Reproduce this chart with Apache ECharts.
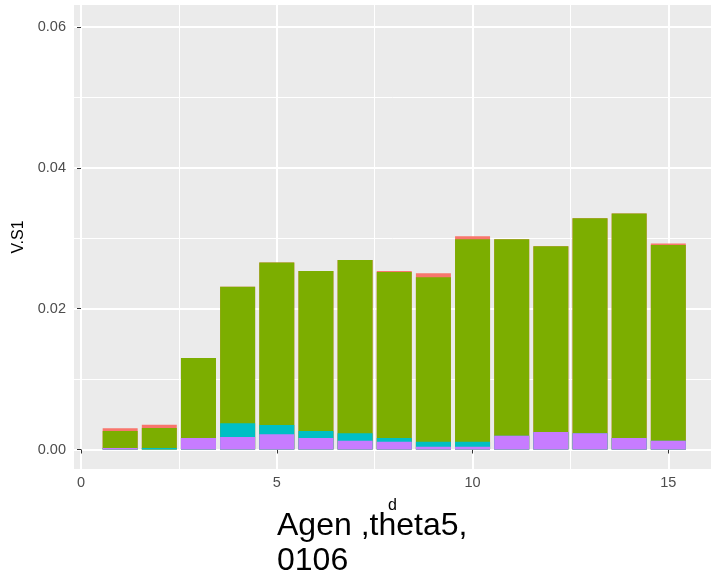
<!DOCTYPE html>
<html>
<head>
<meta charset="utf-8">
<script src="https://cdn.jsdelivr.net/npm/echarts@6/dist/echarts.min.js"></script>
<style>
  html, body { margin: 0; padding: 0; background: #ffffff; }
  #chart { width: 711px; height: 579px; }
</style>
</head>
<body>
<div id="chart"></div>
<script>
// days on the x axis
var days = [1, 2, 3, 4, 5, 6, 7, 8, 9, 10, 11, 12, 13, 14, 15];
// stacked pieces, bottom to top
var purpleVals = [0.0002, 0, 0.00163, 0.00177, 0.00216, 0.00163, 0.00125, 0.0011, 0.0004, 0.0004, 0.00196, 0.00248, 0.0023, 0.00163, 0.00125];
var tealVals = [0, 0.0002, 0, 0.00195, 0.00132, 0.00099, 0.00105, 0.00053, 0.0007, 0.0007, 0, 0, 0, 0, 0];
var greenVals = [0.00242, 0.00285, 0.01135, 0.01938, 0.02307, 0.02274, 0.02462, 0.02359, 0.02337, 0.02876, 0.0279, 0.02639, 0.03054, 0.03187, 0.0278];
var redVals = [0.0004, 0.00047, 0, 0, 0, 0, 0, 0.00014, 0.00057, 0.00042, 0, 0, 0, 0, 0.0002];
// tick labels
var xTicks = [0, 5, 10, 15];
var xMinor = [2.5, 7.5, 12.5];
var yTicks = [0, 0.02, 0.04, 0.06];
var yMinor = [0.01, 0.03, 0.05];

var font = "Liberation Sans";
var chart = echarts.init(document.getElementById("chart"));

// running totals so each piece sits on the ones below it
function cumulate(lists) {
  return days.map(function (d, i) {
    var s = 0;
    lists.forEach(function (l) { s += l[i]; });
    return [d, s];
  });
}

function barSeries(name, lists, color) {
  return {
    name: name,
    type: "bar",
    data: cumulate(lists),
    barWidth: 35,
    barGap: "-100%",
    itemStyle: { color: color },
    clip: false
  };
}

chart.setOption({
  animation: false,
  textStyle: { fontFamily: font },
  title: {
    text: "Agen ,theta5,\n0106",
    left: 272,
    top: 504,
    textStyle: {
      fontFamily: font,
      fontSize: 32,
      fontWeight: "normal",
      color: "#000000",
      lineHeight: 35
    }
  },
  grid: {
    left: 74,
    right: 0,
    top: 5,
    bottom: 110,
    show: true,
    backgroundColor: "#EBEBEB",
    borderWidth: 0
  },
  xAxis: [
    {
      type: "value",
      min: -0.179,
      max: 16.09,
      name: "d",
      nameLocation: "middle",
      nameGap: 29,
      nameTextStyle: { fontSize: 16, color: "#000000" },
      axisLine: { show: false },
      axisTick: { show: true, length: 4, lineStyle: { color: "#333333" }, customValues: xTicks },
      axisLabel: { color: "#4D4D4D", fontSize: 14.5, margin: 6, customValues: xTicks },
      splitLine: { show: true, lineStyle: { color: "#ffffff", width: 2 } }
    },
    {
      type: "value",
      min: -0.179,
      max: 16.09,
      axisLine: { show: false },
      axisTick: { show: false, customValues: xMinor },
      axisLabel: { show: false, customValues: xMinor },
      splitLine: { show: true, lineStyle: { color: "#ffffff", width: 1 } }
    }
  ],
  yAxis: [
    {
      type: "value",
      min: -0.002769,
      max: 0.063125,
      name: "V.S1",
      nameLocation: "middle",
      nameGap: 45,
      nameTextStyle: { fontSize: 16, color: "#000000" },
      axisLine: { show: false },
      axisTick: { show: true, length: 4, lineStyle: { color: "#333333" }, customValues: yTicks },
      axisLabel: {
        color: "#4D4D4D",
        fontSize: 14.5,
        margin: 8,
        customValues: yTicks,
        formatter: function (v) { return v.toFixed(2); }
      },
      splitLine: { show: true, lineStyle: { color: "#ffffff", width: 2 } }
    },
    {
      type: "value",
      min: -0.002769,
      max: 0.063125,
      axisLine: { show: false },
      axisTick: { show: false, customValues: yMinor },
      axisLabel: { show: false, customValues: yMinor },
      splitLine: { show: true, lineStyle: { color: "#ffffff", width: 1 } }
    }
  ],
  // drawn tallest first, so every shorter running total paints over it
  series: [
    barSeries("red", [purpleVals, tealVals, greenVals, redVals], "#F8766D"),
    barSeries("green", [purpleVals, tealVals, greenVals], "#7CAE00"),
    barSeries("teal", [purpleVals, tealVals], "#00BFC4"),
    barSeries("purple", [purpleVals], "#C77CFF")
  ]
});
</script>
</body>
</html>
